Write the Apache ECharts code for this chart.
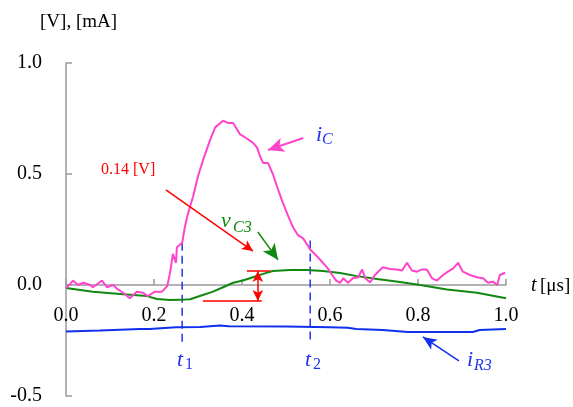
<!DOCTYPE html>
<html>
<head>
<meta charset="utf-8">
<script src="https://cdn.jsdelivr.net/npm/echarts@6/dist/echarts.min.js"></script>
<style>
  html, body { margin: 0; padding: 0; background: #fff; }
  #chart { width: 573px; height: 407px; }
</style>
</head>
<body>
<div id="chart"></div>
<script>
// time axis in us, values in V / mA
var icT = [0, 0.016, 0.027, 0.039, 0.055, 0.061, 0.082, 0.093, 0.107, 0.118, 0.13, 0.145, 0.161, 0.175, 0.186, 0.202, 0.218, 0.23, 0.236, 0.243,
  0.25, 0.252, 0.264, 0.27, 0.277, 0.289, 0.30, 0.311, 0.327, 0.339, 0.357, 0.368, 0.38, 0.395, 0.411, 0.425, 0.434, 0.441, 0.448, 0.459,
  0.47, 0.482, 0.493, 0.505, 0.516, 0.527, 0.539, 0.555, 0.57, 0.584, 0.595, 0.605, 0.614, 0.623, 0.63, 0.641, 0.652, 0.664, 0.673, 0.68,
  0.691, 0.702, 0.72, 0.736, 0.752, 0.764, 0.775, 0.786, 0.798, 0.809, 0.82, 0.832, 0.843, 0.857, 0.868, 0.88, 0.891, 0.902, 0.918, 0.934,
  0.948, 0.959, 0.97, 0.98, 0.986, 0.998];
var icV = [-0.015, 0.02, 0, 0.01, 0, -0.01, 0.02, -0.01, 0, -0.02, -0.035, -0.06, -0.03, -0.035, -0.05, -0.03, -0.03, -0.005, 0.05, 0.14,
  0.10, 0.17, 0.19, 0.26, 0.32, 0.40, 0.49, 0.56, 0.65, 0.71, 0.74, 0.73, 0.73, 0.68, 0.66, 0.64, 0.62, 0.58, 0.55, 0.55,
  0.50, 0.43, 0.37, 0.31, 0.26, 0.225, 0.21, 0.16, 0.13, 0.10, 0.075, 0.045, 0.02, 0.01, 0.03, 0.01, 0.03, 0.035, 0.07, 0.03,
  0.012, 0.045, 0.08, 0.072, 0.07, 0.065, 0.1, 0.065, 0.06, 0.07, 0.07, 0.03, 0.02, 0.045, 0.06, 0.075, 0.1, 0.06, 0.045, 0.035,
  0.03, 0.01, 0.015, 0, 0.045, 0.055];

var vcT = [0, 0.061, 0.123, 0.184, 0.207, 0.236, 0.259, 0.282, 0.311, 0.334, 0.357, 0.38, 0.402, 0.425, 0.448, 0.47, 0.509, 0.548,
  0.584, 0.623, 0.661, 0.707, 0.759, 0.805, 0.866, 0.934, 1.0];
var vcV = [-0.013, -0.03, -0.04, -0.05, -0.063, -0.068, -0.067, -0.064, -0.045, -0.03, -0.01, 0.01, 0.02, 0.035, 0.05, 0.063, 0.068, 0.068,
  0.063, 0.054, 0.04, 0.027, 0.013, 0, -0.02, -0.035, -0.06];

var irT = [0, 0.077, 0.168, 0.19, 0.25, 0.305, 0.35, 0.37, 0.5, 0.6, 0.64, 0.66, 0.72, 0.777, 0.925, 0.94, 1.0];
var irV = [-0.21, -0.205, -0.198, -0.198, -0.19, -0.189, -0.182, -0.186, -0.187, -0.19, -0.193, -0.198, -0.203, -0.212, -0.212, -0.203, -0.198];

var t1 = 0.264, t2 = 0.555;

function zip(a, b) {
  return a.map(function (v, i) { return [v, b[i]]; });
}

var serif = '"Liberation Serif", "DejaVu Serif", serif';
var blueTxt = '#2233ee';
var greenTxt = '#118811';

function txt(x, y, s, size, color, italic) {
  return {
    type: 'text', left: x, top: y - size / 2, silent: true,
    style: { text: s, fill: color, font: (italic ? 'italic ' : '') + size + 'px ' + serif }
  };
}

function arrow(from, to, both) {
  return [
    { coord: from, symbol: both ? 'arrow' : 'none' },
    { coord: to, symbol: 'arrow' }
  ];
}

var chart = echarts.init(document.getElementById('chart'));

// plot box: y from 63 (1.0) to 396 (-0.5); zero line sits 111px above the bottom
var option = {
  animation: false,
  grid: { left: 66, right: 67, top: 63, bottom: 11, outerBoundsMode: 'none', containLabel: false },
  xAxis: {
    type: 'value', min: 0, max: 1, interval: 0.2,
    offset: -111,
    axisLine: { onZero: false, lineStyle: { color: '#9a9a9a', width: 1.5 } },
    axisTick: { inside: true, length: 6, lineStyle: { color: '#9a9a9a', width: 1.5 } },
    axisLabel: {
      margin: 21, color: '#000', fontSize: 20, fontFamily: serif,
      formatter: function (v) { return v.toFixed(1); }
    },
    splitLine: { show: false }
  },
  yAxis: {
    type: 'value', min: -0.5, max: 1, interval: 0.5,
    axisLine: { show: true, onZero: false, lineStyle: { color: '#9a9a9a', width: 1.5 } },
    axisTick: { show: true, inside: true, length: 6, lineStyle: { color: '#9a9a9a', width: 1.5 } },
    axisLabel: {
      margin: 24, color: '#000', fontSize: 20, fontFamily: serif,
      formatter: function (v) { return v.toFixed(1); }
    },
    splitLine: { show: false }
  },
  series: [
    {
      name: 't1', type: 'line', symbol: 'none', silent: true, z: 1,
      lineStyle: { color: '#2233ee', width: 1.5, type: [8, 5] },
      data: [[t1, 0.19], [t1, -0.26]]
    },
    {
      name: 't2', type: 'line', symbol: 'none', silent: true, z: 1,
      lineStyle: { color: '#2233ee', width: 1.5, type: [8, 5] },
      data: [[t2, 0.2], [t2, -0.26]]
    },
    {
      name: 'iR3', type: 'line', symbol: 'none',
      lineStyle: { color: '#1030ee', width: 2 },
      data: zip(irT, irV),
      markLine: {
        silent: true, animation: false, symbolSize: [9, 14], label: { show: false },
        lineStyle: { color: '#1030ee', width: 1.5, type: 'solid' },
        data: [arrow([0.893, -0.342], [0.811, -0.234])]
      }
    },
    {
      name: 'vC3', type: 'line', symbol: 'none',
      lineStyle: { color: '#118811', width: 2 },
      data: zip(vcT, vcV),
      markLine: {
        silent: true, animation: false, symbolSize: [11, 16], label: { show: false },
        lineStyle: { color: '#118811', width: 1.5, type: 'solid' },
        data: [arrow([0.436, 0.239], [0.482, 0.113])]
      }
    },
    {
      name: 'iC', type: 'line', symbol: 'none',
      lineStyle: { color: '#ff44cc', width: 2 },
      data: zip(icT, icV),
      markLine: {
        silent: true, animation: false, symbolSize: [11, 16], label: { show: false },
        lineStyle: { color: '#ff44cc', width: 2, type: 'solid' },
        data: [arrow([0.539, 0.662], [0.459, 0.608])]
      }
    },
    {
      name: 'delta', type: 'line', symbol: 'none', silent: true,
      lineStyle: { color: '#ff0000', width: 1.5 },
      data: [[0.311, -0.072], [0.445, -0.072], null, [0.411, 0.063], [0.464, 0.063]],
      connectNulls: false,
      markLine: {
        silent: true, animation: false, symbolSize: [8, 11], label: { show: false },
        lineStyle: { color: '#ff0000', width: 1.5, type: 'solid' },
        data: [
          arrow([0.227, 0.428], [0.425, 0.153]),
          arrow([0.436, 0.063], [0.436, -0.072], true)
        ]
      }
    }
  ],
  graphic: [
    txt(40, 22, '[V], [mA]', 19, '#000', false),
    txt(531, 286, 't', 20, '#000', true),
    txt(540, 286, '[\u03bcs]', 19, '#000', false),
    txt(101, 170, '0.14 [V]', 16, '#ff0000', false),
    txt(316, 135, 'i', 22, blueTxt, true),
    txt(322, 140, 'C', 16, blueTxt, true),
    txt(221, 221, 'v', 22, greenTxt, true),
    txt(233, 228, 'C3', 16, greenTxt, true),
    txt(177, 360, 't', 22, blueTxt, true),
    txt(185, 365, '1', 16, blueTxt, false),
    txt(305, 360, 't', 22, blueTxt, true),
    txt(313, 365, '2', 16, blueTxt, false),
    txt(467, 360, 'i', 22, blueTxt, true),
    txt(474, 366, 'R3', 16, blueTxt, true)
  ]
};

chart.setOption(option);
</script>
</body>
</html>
